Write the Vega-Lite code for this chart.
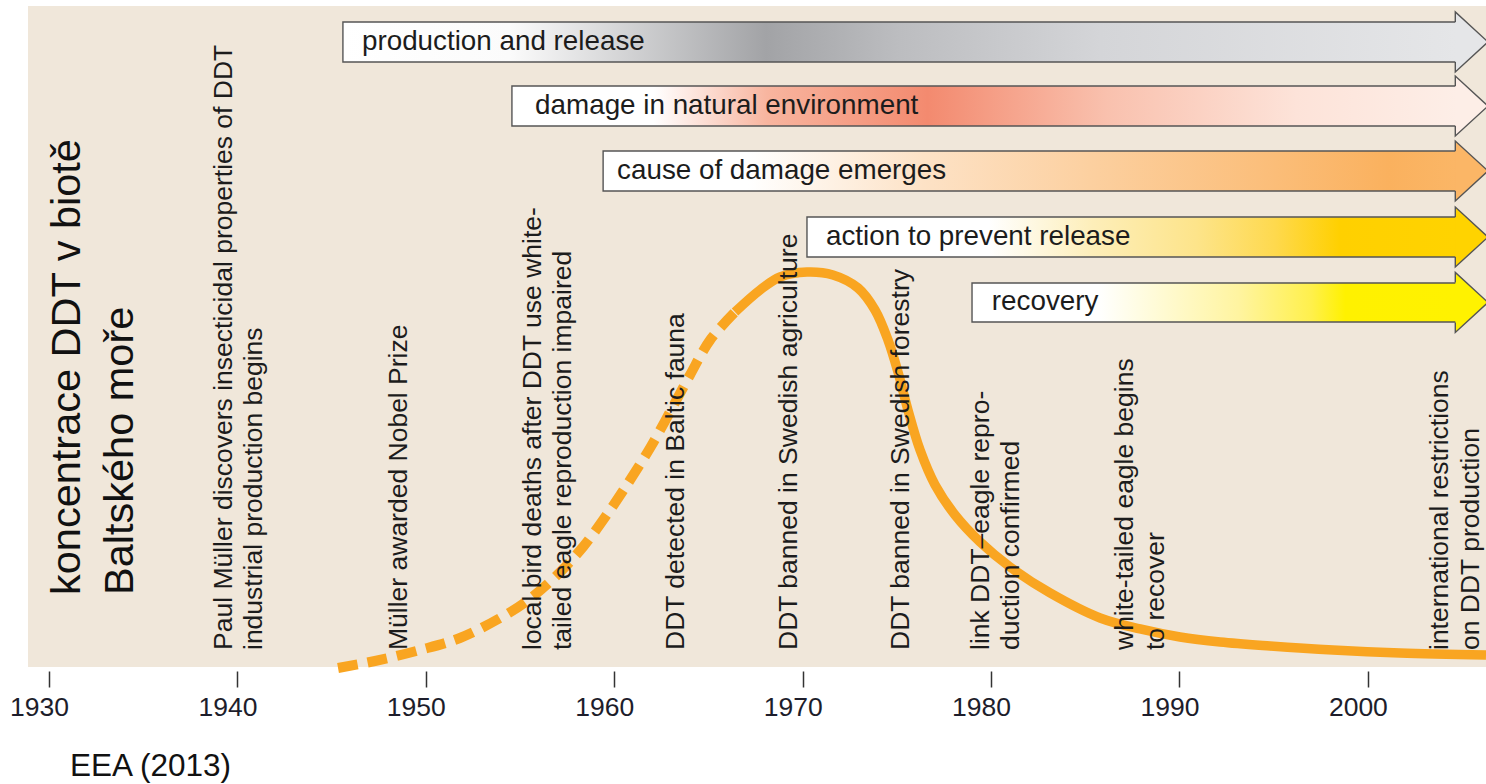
{
  "$schema": "https://vega.github.io/schema/vega-lite/v6.json",
  "width": 1458,
  "height": 661,
  "autosize": {"type": "none"},
  "padding": {"left": 28, "top": 6, "right": 0, "bottom": 117},
  "background": "#ffffff",
  "view": {"fill": "#f0e7da", "stroke": null},
  "config": {"font": "Liberation Sans"},
  "title": {"text": "EEA (2013)", "orient": "bottom", "anchor": "start", "frame": "group", "dx": 42, "offset": 30, "fontSize": 31.5, "fontWeight": "normal", "color": "#111111", "font": "Liberation Sans"},
  "datasets": {
    "curve": [
      {"year": 1945.34, "conc": -0.15, "part": "projected"},
      {"year": 1947.30, "conc": 0.91, "part": "projected"},
      {"year": 1949.69, "conc": 2.57, "part": "projected"},
      {"year": 1951.81, "conc": 4.39, "part": "projected"},
      {"year": 1953.94, "conc": 7.41, "part": "projected"},
      {"year": 1955.37, "conc": 9.99, "part": "projected"},
      {"year": 1956.86, "conc": 13.62, "part": "projected"},
      {"year": 1958.34, "conc": 18.15, "part": "projected"},
      {"year": 1959.78, "conc": 23.75, "part": "projected"},
      {"year": 1960.84, "conc": 28.29, "part": "projected"},
      {"year": 1961.90, "conc": 33.13, "part": "projected"},
      {"year": 1962.96, "conc": 38.58, "part": "projected"},
      {"year": 1964.02, "conc": 44.18, "part": "projected"},
      {"year": 1965.09, "conc": 49.47, "part": "projected"},
      {"year": 1966.41, "conc": 53.71, "part": "projected"},
      {"year": 1966.41, "conc": 53.71, "part": "measured"},
      {"year": 1967.74, "conc": 57.04, "part": "measured"},
      {"year": 1968.80, "conc": 59.00, "part": "measured"},
      {"year": 1970.23, "conc": 59.76, "part": "measured"},
      {"year": 1971.61, "conc": 59.31, "part": "measured"},
      {"year": 1972.94, "conc": 57.34, "part": "measured"},
      {"year": 1973.84, "conc": 54.01, "part": "measured"},
      {"year": 1974.53, "conc": 49.47, "part": "measured"},
      {"year": 1975.06, "conc": 44.63, "part": "measured"},
      {"year": 1975.59, "conc": 38.88, "part": "measured"},
      {"year": 1976.23, "conc": 32.83, "part": "measured"},
      {"year": 1977.03, "conc": 27.53, "part": "measured"},
      {"year": 1978.09, "conc": 23.00, "part": "measured"},
      {"year": 1979.42, "conc": 18.91, "part": "measured"},
      {"year": 1981.01, "conc": 15.13, "part": "measured"},
      {"year": 1983.13, "conc": 11.20, "part": "measured"},
      {"year": 1985.79, "conc": 7.41, "part": "measured"},
      {"year": 1987.91, "conc": 5.75, "part": "measured"},
      {"year": 1990.03, "conc": 4.54, "part": "measured"},
      {"year": 1992.16, "conc": 3.78, "part": "measured"},
      {"year": 1994.81, "conc": 3.18, "part": "measured"},
      {"year": 1998.15, "conc": 2.57, "part": "measured"},
      {"year": 2001.71, "conc": 2.12, "part": "measured"},
      {"year": 2006.27, "conc": 1.82, "part": "measured"}
    ],
    "events": [
      {"year": 1939.71, "pos": 2.57, "label": "Paul Müller discovers insecticidal properties of DDT\nindustrial production begins"},
      {"year": 1949.0, "pos": 2.57, "label": "Müller awarded Nobel Prize"},
      {"year": 1956.11, "pos": 2.57, "label": "local bird deaths after DDT use white-\ntailed eagle reproduction impaired"},
      {"year": 1963.70, "pos": 2.57, "label": "DDT detected in Baltic fauna"},
      {"year": 1969.70, "pos": 2.57, "label": "DDT banned in Swedish agriculture"},
      {"year": 1975.65, "pos": 2.57, "label": "DDT banned in Swedish forestry"},
      {"year": 1979.89, "pos": 2.57, "label": "link DDT–eagle repro-\nduction confirmed"},
      {"year": 1987.55, "pos": 2.57, "label": "white-tailed eagle begins\nto recover"},
      {"year": 2004.26, "pos": 2.57, "label": "international restrictions\non DDT production"}
    ],
    "ytitle": [
      {"year": 1931.62, "pos": 10.89, "label": "koncentrace DDT v biotě\nBaltského moře"}
    ],
    "arrows": [
      {"id": 1, "label": "production and release", "start": 1945.60, "end": 2004.72, "top": 97.58, "bottom": 91.53, "mid": 94.56, "tx": 1946.61},
      {"id": 2, "label": "damage in natural environment", "start": 1954.57, "end": 2004.72, "top": 87.90, "bottom": 81.85, "mid": 84.87, "tx": 1955.80},
      {"id": 3, "label": "cause of damage emerges", "start": 1959.41, "end": 2004.72, "top": 78.07, "bottom": 72.01, "mid": 75.04, "tx": 1960.15},
      {"id": 4, "label": "action to prevent release", "start": 1970.23, "end": 2004.72, "top": 68.08, "bottom": 62.03, "mid": 65.05, "tx": 1971.24},
      {"id": 5, "label": "recovery", "start": 1978.99, "end": 2004.72, "top": 58.10, "bottom": 52.20, "mid": 55.15, "tx": 1980.04}
    ]
  },
  "layer": [
    {
      "data": {"name": "curve"},
      "transform": [{"filter": "datum.part == 'projected'"}],
      "mark": {"type": "line", "interpolate": "catmull-rom", "color": "#f9a521", "strokeWidth": 10, "strokeDash": [20, 10], "strokeCap": "butt"},
      "encoding": {
        "x": {"field": "year", "type": "quantitative",
          "scale": {"domain": [1928.885, 2006.27], "nice": false, "zero": false},
          "axis": {"values": [1930, 1940, 1950, 1960, 1970, 1980, 1990, 2000], "format": "d", "title": null, "grid": false, "domain": false, "offset": 4, "tickSize": 16, "tickWidth": 1.5, "tickColor": "#333333", "labelFontSize": 26.5, "labelFont": "Liberation Sans", "labelColor": "#1d1d2b", "labelPadding": 7, "labelOffset": -10}},
        "y": {"field": "conc", "type": "quantitative", "scale": {"domain": [0, 100], "nice": false, "zero": false}, "axis": null},
        "order": {"field": "year", "type": "quantitative"}
      }
    },
    {
      "data": {"name": "curve"},
      "transform": [{"filter": "datum.part == 'measured'"}],
      "mark": {"type": "line", "interpolate": "catmull-rom", "color": "#f9a521", "strokeWidth": 9.5, "strokeCap": "butt"},
      "encoding": {
        "x": {"field": "year", "type": "quantitative"},
        "y": {"field": "conc", "type": "quantitative"},
        "order": {"field": "year", "type": "quantitative"}
      }
    },
    {
      "data": {"name": "events"},
      "mark": {"type": "text", "angle": 270, "align": "left", "baseline": "alphabetic", "fontSize": 26.5, "lineHeight": 30.5, "lineBreak": "\n", "color": "#1c1c1c", "font": "Liberation Sans"},
      "encoding": {
        "x": {"field": "year", "type": "quantitative"},
        "y": {"field": "pos", "type": "quantitative"},
        "text": {"field": "label"}
      }
    },
    {
      "data": {"name": "ytitle"},
      "mark": {"type": "text", "angle": 270, "align": "left", "baseline": "alphabetic", "fontSize": 41.5, "lineHeight": 53, "lineBreak": "\n", "color": "#111111", "font": "Liberation Sans"},
      "encoding": {
        "x": {"field": "year", "type": "quantitative"},
        "y": {"field": "pos", "type": "quantitative"},
        "text": {"field": "label"}
      }
    },
    {
      "data": {"name": "arrows"},
      "transform": [{"filter": "datum.id == 1"}],
      "mark": {"type": "rect", "stroke": "#555555", "strokeWidth": 1.4,
        "fill": {"gradient": "linear", "x1": 0, "y1": 0, "x2": 1, "y2": 0, "stops": [
          {"offset": 0, "color": "#ffffff"}, {"offset": 0.15, "color": "#fbfbfb"}, {"offset": 0.38, "color": "#a2a3a6"}, {"offset": 0.5, "color": "#bcbdc0"}, {"offset": 0.68, "color": "#d4d5d8"}, {"offset": 1, "color": "#e5e6e8"}]}},
      "encoding": {"x": {"field": "start", "type": "quantitative"}, "x2": {"field": "end"}, "y": {"field": "top", "type": "quantitative"}, "y2": {"field": "bottom"}}
    },
    {
      "data": {"name": "arrows"},
      "transform": [{"filter": "datum.id == 2"}],
      "mark": {"type": "rect", "stroke": "#555555", "strokeWidth": 1.4,
        "fill": {"gradient": "linear", "x1": 0, "y1": 0, "x2": 1, "y2": 0, "stops": [
          {"offset": 0, "color": "#ffffff"}, {"offset": 0.15, "color": "#ffffff"}, {"offset": 0.27, "color": "#f8b59f"}, {"offset": 0.44, "color": "#f38a6f"}, {"offset": 0.63, "color": "#f9c1ae"}, {"offset": 0.83, "color": "#fde3d9"}, {"offset": 1, "color": "#fdeee7"}]}},
      "encoding": {"x": {"field": "start", "type": "quantitative"}, "x2": {"field": "end"}, "y": {"field": "top", "type": "quantitative"}, "y2": {"field": "bottom"}}
    },
    {
      "data": {"name": "arrows"},
      "transform": [{"filter": "datum.id == 3"}],
      "mark": {"type": "rect", "stroke": "#555555", "strokeWidth": 1.4,
        "fill": {"gradient": "linear", "x1": 0, "y1": 0, "x2": 1, "y2": 0, "stops": [
          {"offset": 0, "color": "#ffffff"}, {"offset": 0.17, "color": "#ffffff"}, {"offset": 0.375, "color": "#fde2c6"}, {"offset": 0.57, "color": "#fcd0a0"}, {"offset": 0.79, "color": "#fbbd78"}, {"offset": 0.92, "color": "#fab15e"}, {"offset": 1, "color": "#fbb666"}]}},
      "encoding": {"x": {"field": "start", "type": "quantitative"}, "x2": {"field": "end"}, "y": {"field": "top", "type": "quantitative"}, "y2": {"field": "bottom"}}
    },
    {
      "data": {"name": "arrows"},
      "transform": [{"filter": "datum.id == 4"}],
      "mark": {"type": "rect", "stroke": "#555555", "strokeWidth": 1.4,
        "fill": {"gradient": "linear", "x1": 0, "y1": 0, "x2": 1, "y2": 0, "stops": [
          {"offset": 0, "color": "#ffffff"}, {"offset": 0.28, "color": "#ffffff"}, {"offset": 0.44, "color": "#fdeeb9"}, {"offset": 0.6, "color": "#fde48a"}, {"offset": 0.72, "color": "#fed94e"}, {"offset": 0.82, "color": "#ffd000"}, {"offset": 1, "color": "#ffd300"}]}},
      "encoding": {"x": {"field": "start", "type": "quantitative"}, "x2": {"field": "end"}, "y": {"field": "top", "type": "quantitative"}, "y2": {"field": "bottom"}}
    },
    {
      "data": {"name": "arrows"},
      "transform": [{"filter": "datum.id == 5"}],
      "mark": {"type": "rect", "stroke": "#555555", "strokeWidth": 1.4,
        "fill": {"gradient": "linear", "x1": 0, "y1": 0, "x2": 1, "y2": 0, "stops": [
          {"offset": 0, "color": "#ffffff"}, {"offset": 0.26, "color": "#ffffff"}, {"offset": 0.4, "color": "#fffad0"}, {"offset": 0.55, "color": "#fff4a0"}, {"offset": 0.7, "color": "#fff04c"}, {"offset": 0.77, "color": "#fff100"}, {"offset": 1, "color": "#fff200"}]}},
      "encoding": {"x": {"field": "start", "type": "quantitative"}, "x2": {"field": "end"}, "y": {"field": "top", "type": "quantitative"}, "y2": {"field": "bottom"}}
    },
    {
      "data": {"name": "arrows"},
      "mark": {"type": "point", "shape": "M-0.05,-0.667L-0.05,-1L1.04,0L-0.05,1L-0.05,0.667", "filled": true, "size": 3600, "opacity": 1, "stroke": "#555555", "strokeWidth": 1.4, "strokeOpacity": 1},
      "encoding": {
        "x": {"field": "end", "type": "quantitative"},
        "y": {"field": "mid", "type": "quantitative"},
        "fill": {"field": "id", "type": "nominal", "scale": {"domain": [1, 2, 3, 4, 5], "range": ["#e5e6e8", "#fdeee7", "#fbb666", "#ffd300", "#fff200"]}, "legend": null}
      }
    },
    {
      "data": {"name": "arrows"},
      "mark": {"type": "text", "align": "left", "baseline": "middle", "fontSize": 27.8, "color": "#1c1c1c", "font": "Liberation Sans"},
      "encoding": {
        "x": {"field": "tx", "type": "quantitative"},
        "y": {"field": "mid", "type": "quantitative"},
        "text": {"field": "label"}
      }
    }
  ]
}
